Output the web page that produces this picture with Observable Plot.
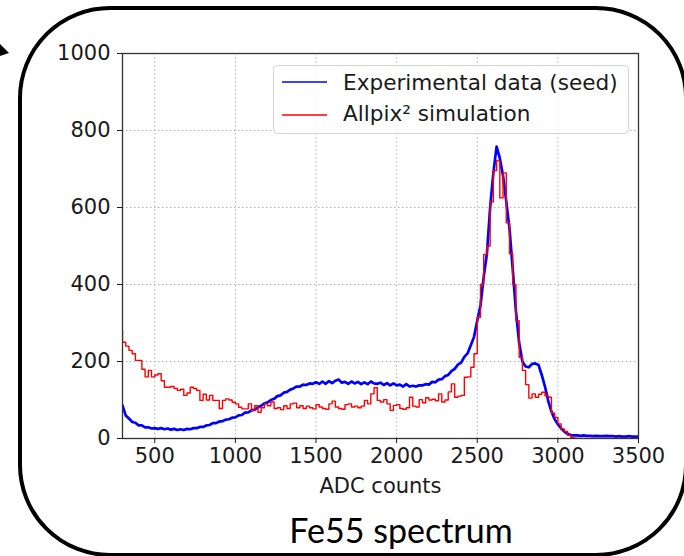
<!DOCTYPE html>
<html><head><meta charset="utf-8">
<script src="https://cdn.jsdelivr.net/npm/d3@7"></script>
<script src="https://cdn.jsdelivr.net/npm/@observablehq/plot@0.6"></script>
<style>
html,body{margin:0;padding:0;background:#fff;}
#wrap{position:relative;width:684px;height:556px;overflow:hidden;}
#chart{position:absolute;left:0;top:0;}
.overlay{position:absolute;left:0;top:0;pointer-events:none;}
</style></head>
<body><div id="wrap"><div id="chart"></div>
<svg class="overlay" width="684" height="556" viewBox="0 0 684 556">
  <rect x="20" y="8" width="666" height="547" rx="90" ry="90" fill="none" stroke="#000" stroke-width="4"/>
  <polygon points="0,44 9,53 0,56" fill="#000"/>
  <g font-family="DejaVu Sans" font-size="21.6px" fill="#1a1a1a">
    <rect x="273.5" y="65.5" width="355" height="68" rx="4" fill="rgba(255,255,255,0.8)" stroke="#d4d4d4"/>
    <line x1="282" x2="327" y1="82" y2="82" stroke="#0000ff" stroke-width="1.6"/>
    <line x1="282" x2="327" y1="115" y2="115" stroke="#ff0000" stroke-width="1.6"/>
    <text id="lg1" x="343" y="90"></text>
    <text id="lg2" x="343" y="121"></text>
  </g>
  <text id="title" x="401" y="543" text-anchor="middle" font-family="Lato" font-size="34px" fill="#000"></text>
</svg>
</div>
<script>
// Series names / labels
const seriesNames = ["Experimental data (seed)", "Allpix² simulation"];
const xLabel = "ADC counts";
const chartTitle = "Fe55 spectrum";
const xTicks = [500, 1000, 1500, 2000, 2500, 3000, 3500];
const yTicks = [0, 200, 400, 600, 800, 1000];
const xGrid = [500, 1000, 1500, 2000, 2500, 3000];
const yGrid = [200, 400, 600, 800];

// Experimental data (blue), sampled every 20 ADC from 300
const blueStart = 300, blueStep = 20;
const blueY = [
  86,60,52,43,41,34,34,29,29,26, 27,25,27,24,26,23,25,22,24,22,
  25,24,27,27,30,30,34,35,40,40, 44,45,49,50,54,55,60,61,67,68,
  73,75,81,85,91,94,100,103,110,112, 119,121,127,130,135,135,140,139,143,142,
  146,142,148,142,149,144,150,153,145,147, 142,148,143,147,141,146,141,148,143,142,
  145,139,144,138,143,138,140,135,141,135, 137,135,138,138,141,140,147,146,153,154,
  162,165,175,181,192,197,212,221,242,264, 306,345,420,480,600,690,758,728,682,616,
  545,440,330,248,200,187,185,194,195,191, 165,135,98,70,50,37,26,18,12,9,
  8,8,7,8,7,7,6,7,6,6, 7,6,6,5,6,5,5,6,5,5,5
];

// Allpix² simulation (red) histogram, bins of 20 ADC starting at 280
const redStart = 280, redStep = 20;
const redY = [
  280,250,240,229,220,203,203,180,160,177, 160,165,168,150,133,133,135,130,125,128,
  112,118,133,130,125,99,115,100,112,99, 99,78,99,103,100,94,90,81,77,77,
  90,73,85,68,80,90,85,95,78,80, 75,85,78,90,92,80,85,78,84,80,
  77,88,82,78,76,90,97,82,78,76, 88,90,82,84,80,84,99,90,116,132,
  99,95,101,90,73,86,88,78,76,80, 107,84,82,101,93,106,100,102,98,116,
  95,100,121,142,107,110,112,159,160,185, 220,315,400,478,500,615,696,722,625,690,
  560,480,400,306,211,177,140,105,116,107, 115,120,111,107,66,55,38,25,18,8,
  3,1,0,0,0,0,0,0,0,0, 0,0,0,0,0,0,0,0,0,0,0,0
];

document.getElementById("lg1").textContent = seriesNames[0];
document.getElementById("lg2").textContent = seriesNames[1];
document.getElementById("title").textContent = chartTitle;

const blue = blueY.map((y, i) => ({x: blueStart + i * blueStep, y}));
const red = redY.map((y, i) => ({x: redStart + i * redStep, y}));

const chart = Plot.plot({
  width: 684,
  height: 500,
  marginTop: 53,
  marginBottom: 62,
  marginLeft: 122,
  marginRight: 46,
  style: {fontFamily: "DejaVu Sans", fontSize: "21px", color: "#1a1a1a", background: "transparent", overflow: "visible"},
  x: {domain: [300, 3500]},
  y: {domain: [0, 1000]},
  marks: [
    Plot.gridX({ticks: xGrid, stroke: "#b0b0b0", strokeOpacity: 1, strokeWidth: 1, strokeDasharray: "1.5,2.5"}),
    Plot.gridY({ticks: yGrid, stroke: "#b0b0b0", strokeOpacity: 1, strokeWidth: 1, strokeDasharray: "1.5,2.5"}),
    Plot.line(blue, {x: "x", y: "y", stroke: "#0000ff", strokeWidth: 2.7, clip: true}),
    Plot.line(red, {x: "x", y: "y", stroke: "#ff0000", strokeWidth: 1.4, curve: "step-after", clip: true}),
    Plot.frame({stroke: "#333", strokeWidth: 1.3}),
    Plot.axisX({ticks: xTicks, tickFormat: d => String(d), tickSize: 5, tickPadding: 5, label: xLabel, labelAnchor: "center", labelArrow: "none", labelOffset: 54}),
    Plot.axisY({ticks: yTicks, tickFormat: d => String(d), tickSize: 5, tickPadding: 7, label: null})
  ]
});
document.getElementById("chart").appendChild(chart);
</script>
</body></html>
